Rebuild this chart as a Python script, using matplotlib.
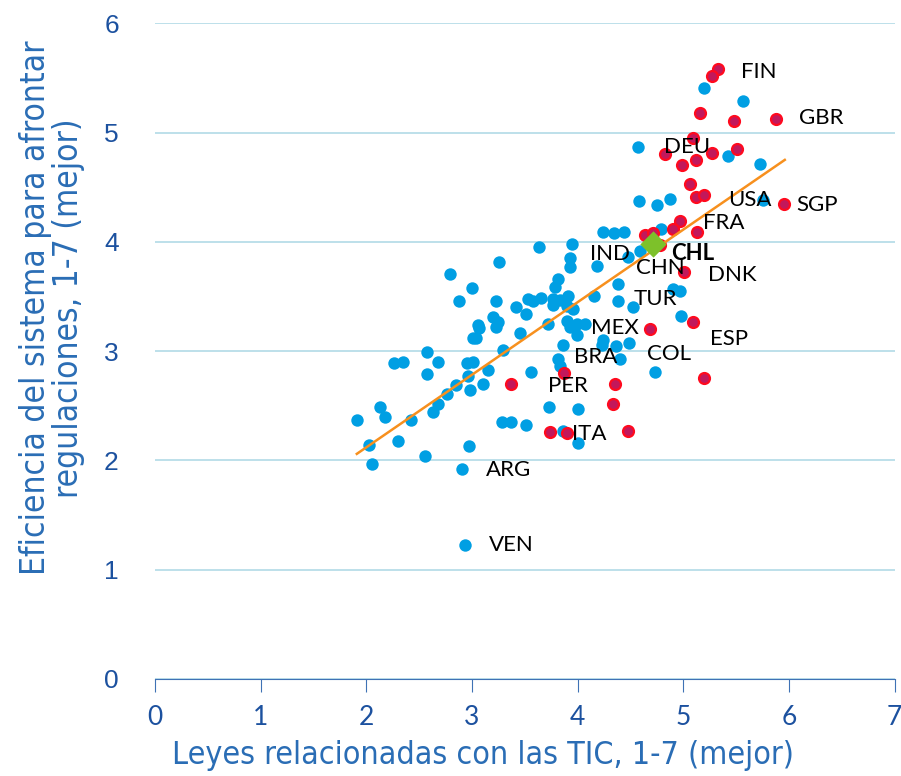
"""
Scatter: leyes TIC vs eficiencia del sistema para afrontar regulaciones
"""

import numpy as np
import matplotlib.pyplot as plt


# Data
blue_x = [3.63, 3.95, 3.26, 3.93, 3.93, 4.18, 2.79, 3.81, 3.79, 3.00,
          4.38, 2.88, 3.23, 3.42, 3.53, 3.58, 3.65, 3.51, 3.77, 3.83,
          3.91, 3.77, 3.90, 3.96, 4.15, 4.38, 4.52, 3.20, 3.25, 3.23,
          3.06, 3.07, 3.45, 3.72, 3.90, 3.93, 3.99, 4.07, 3.99, 3.01,
          3.04, 3.86, 4.24, 4.23, 4.36, 4.49, 2.57, 3.29, 2.26, 2.35,
          2.68, 2.95, 3.01, 2.96, 2.57, 3.15, 3.56, 3.81, 3.83, 2.85,
          2.98, 3.10, 2.76, 2.68, 2.63, 2.13, 2.18, 1.91, 2.42, 2.30,
          2.03, 2.05, 2.56, 2.97, 2.91, 3.73, 4.00, 3.28, 3.37, 3.51,
          3.86, 4.00, 4.73, 2.93, 4.40, 5.20, 5.56, 4.57, 5.42, 5.73,
          4.58, 4.75, 4.87, 5.75, 4.24, 4.34, 4.44, 4.79, 4.59, 4.48,
          4.90, 4.97, 4.98]
blue_y = [3.95, 3.98, 3.82, 3.85, 3.77, 3.78, 3.71, 3.66, 3.59, 3.58,
          3.61, 3.46, 3.46, 3.40, 3.48, 3.46, 3.49, 3.34, 3.48, 3.47,
          3.50, 3.42, 3.41, 3.39, 3.50, 3.46, 3.40, 3.31, 3.27, 3.22,
          3.24, 3.21, 3.17, 3.25, 3.28, 3.22, 3.25, 3.25, 3.15, 3.12,
          3.12, 3.06, 3.10, 3.06, 3.05, 3.07, 2.99, 3.01, 2.89, 2.90,
          2.90, 2.89, 2.90, 2.77, 2.79, 2.83, 2.81, 2.93, 2.86, 2.69,
          2.64, 2.70, 2.61, 2.52, 2.44, 2.49, 2.40, 2.37, 2.37, 2.18,
          2.14, 1.97, 2.04, 2.13, 1.92, 2.49, 2.47, 2.35, 2.35, 2.32,
          2.27, 2.16, 2.81, 1.23, 2.93, 5.41, 5.29, 4.87, 4.79, 4.71,
          4.37, 4.34, 4.39, 4.38, 4.09, 4.08, 4.09, 4.12, 3.92, 3.86,
          3.57, 3.55, 3.32]

red_x = [5.33, 5.27, 5.16, 5.48, 5.88, 5.09, 4.83, 4.99, 5.12, 5.27,
         5.51, 5.06, 5.12, 5.20, 5.95, 4.97, 4.90, 5.13, 4.64, 4.71,
         4.78, 5.01, 5.09, 4.68, 5.20, 3.37, 3.87, 4.35, 4.33, 3.74,
         3.90, 4.48]
red_y = [5.58, 5.52, 5.18, 5.11, 5.12, 4.95, 4.80, 4.70, 4.75, 4.81,
         4.85, 4.53, 4.41, 4.43, 4.35, 4.19, 4.12, 4.09, 4.06, 4.08,
         3.97, 3.72, 3.27, 3.20, 2.75, 2.70, 2.80, 2.70, 2.52, 2.26,
         2.25, 2.27]

chl_x, chl_y = 4.71, 3.98

trend_x = [1.91, 5.96]
trend_y = [2.06, 4.75]

labels = ['FIN', 'GBR', 'DEU', 'USA', 'SGP', 'FRA', 'IND', 'CHL', 'CHN', 'DNK',
          'TUR', 'MEX', 'ESP', 'BRA', 'COL', 'PER', 'ITA', 'ARG', 'VEN']
label_x = [5.55, 6.09, 4.82, 5.42, 6.07, 5.19, 4.12, 4.88, 4.55, 5.23,
           4.53, 4.13, 5.25, 3.97, 4.66, 3.72, 3.95, 3.13, 3.16]
label_y = [5.55, 5.13, 4.87, 4.38, 4.34, 4.17, 3.89, 3.89, 3.76, 3.70,
           3.48, 3.21, 3.11, 2.95, 2.97, 2.68, 2.24, 1.91, 1.23]

x_ticks = [0, 1, 2, 3, 4, 5, 6, 7]
y_ticks = [0, 1, 2, 3, 4, 5, 6]

# Colors
BLUE = '#009FE3'
RED_FILL = '#C2185B'
RED_EDGE = '#FF0A1E'
GREEN = '#7DC12A'
ORANGE = '#F7901E'
GRID = '#B7DDE8'
TICK_COL = '#1C519F'
TITLE_COL = '#2A6DB5'
NARROW = dict(family='DejaVu Sans', fontstretch='condensed')


fig = plt.figure(figsize=(9.01, 7.76), dpi=100)
ax = fig.add_axes([0.172, 0.125, 0.821, 0.845])

ax.scatter(blue_x, blue_y, s=80, color=BLUE, linewidths=0, zorder=3)
ax.scatter(red_x, red_y, s=62, color=RED_FILL, edgecolors=RED_EDGE,
           linewidths=1.6, zorder=4)
ax.plot(trend_x, trend_y, color=ORANGE, lw=1.8, zorder=5)
ax.scatter([chl_x], [chl_y], s=180, marker='D', color=GREEN, linewidths=0, zorder=6)

for lab, lx, ly in zip(labels, label_x, label_y):
    ax.text(lx, ly, lab, fontsize=16, family='Lato', va='center', ha='left',
            fontweight='bold' if lab == 'CHL' else 'normal', color='black', zorder=7)

ax.set_xlim(0, 7)
ax.set_ylim(0, 6)
ax.set_xticks(x_ticks)
ax.set_yticks(y_ticks)
ax.set_xticklabels([str(t) for t in x_ticks], fontsize=19, color=TICK_COL, family='Lato')
ax.set_yticklabels([str(t) for t in y_ticks], fontsize=19, color=TICK_COL,
                   family='Liberation Sans')

ax.yaxis.grid(True, color=GRID, lw=1.3)
ax.set_axisbelow(True)
for side in ['top', 'right', 'left']:
    ax.spines[side].set_visible(False)
ax.spines['bottom'].set_color('#3F72B5')
ax.tick_params(axis='x', direction='out', length=9, color='#3F72B5', pad=10)
ax.tick_params(axis='y', length=0, pad=26)

ax.text(0.444, -0.116, 'Leyes relacionadas con las TIC, 1-7 (mejor)', transform=ax.transAxes,
        fontsize=23, color=TITLE_COL, ha='center', va='center', **NARROW)
ax.text(-0.139, 0.566, 'Eficiencia del sistema para afrontar\nregulaciones, 1-7 (mejor)',
        transform=ax.transAxes, rotation=90, fontsize=24, color=TITLE_COL,
        ha='center', va='center', linespacing=1.0, multialignment='center', **NARROW)

fig.savefig('out.png', dpi=100)
